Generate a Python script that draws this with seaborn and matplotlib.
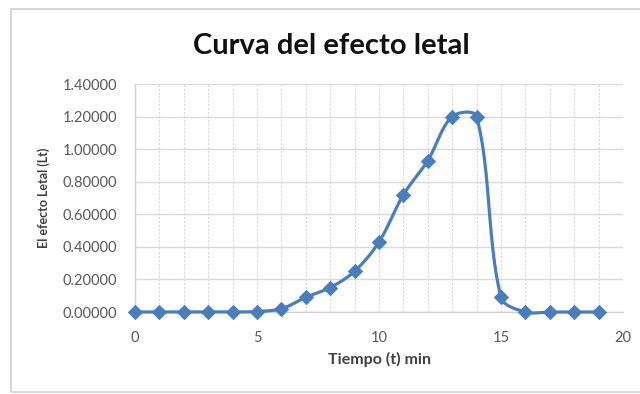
import numpy as np
import pandas as pd
import matplotlib
matplotlib.use("Agg")
import matplotlib.pyplot as plt
import seaborn as sns
from matplotlib.patches import Rectangle
from matplotlib.ticker import MultipleLocator, FormatStrFormatter

tiempo = [0, 1, 2, 3, 4, 5, 6, 7, 8, 9, 10, 11, 12, 13, 14, 15, 16, 17, 18, 19]
efecto = [0.0, 0.0, 0.0, 0.0, 0.0, 0.003, 0.02, 0.09, 0.15, 0.25, 0.43,
          0.72, 0.93, 1.20, 1.20, 0.09, 0.0, 0.0, 0.0, 0.0]

title = "Curva del efecto letal"
xlabel = "Tiempo (t) min"
ylabel = "El efecto Letal (Lt)"

sns.set_theme(style="white")
plt.rcParams['font.family'] = ['Lato', 'DejaVu Sans']

color = "#4a7ebb"


def smooth(x, y, sx, sy, n=40):
    # Excel-like smoothed line: Bezier segments whose control points use
    # chord lengths measured in screen space.
    P = np.column_stack([np.asarray(x, float) * sx, np.asarray(y, float) * sy])
    m = len(P)
    d = np.linalg.norm(np.diff(P, axis=0), axis=1)
    T = np.zeros_like(P)
    for i in range(m):
        if i == 0:
            T[i] = (P[1] - P[0]) / d[0]
        elif i == m - 1:
            T[i] = (P[-1] - P[-2]) / d[-1]
        else:
            T[i] = (P[i + 1] - P[i - 1]) / (d[i - 1] + d[i])
    t = np.linspace(0, 1, n, endpoint=False)[:, None]
    out = []
    for i in range(m - 1):
        p0 = P[i]
        p3 = P[i + 1]
        p1 = p0 + T[i] * d[i] / 3
        p2 = p3 - T[i + 1] * d[i] / 3
        seg = ((1 - t) ** 3) * p0 + 3 * ((1 - t) ** 2) * t * p1 + 3 * (1 - t) * t ** 2 * p2 + t ** 3 * p3
        out.append(seg)
    out.append(P[-1:])
    out = np.vstack(out)
    return out[:, 0] / sx, out[:, 1] / sy


fig = plt.figure(figsize=(6.4, 3.94), dpi=100)
fig.patch.set_facecolor("white")
fig.add_artist(Rectangle((11 / 640, 2 / 394), 1.2, 383 / 394, transform=fig.transFigure,
                         fill=False, edgecolor="#d0d0d0", linewidth=1.2))

ax = fig.add_axes([135 / 640, 1 - 312 / 394, (623 - 135) / 640, (312 - 84) / 394])
ax.set_xlim(0, 20)
ax.set_ylim(0, 1.4)

bb = ax.get_window_extent()
px_x = bb.width / 20.0
px_y = bb.height / 1.4

sx_, sy_ = smooth(tiempo, efecto, px_x, px_y)
sdf = pd.DataFrame({"t": sx_, "L": sy_})
df = pd.DataFrame({"t": tiempo, "L": efecto})
sns.lineplot(data=sdf, x="t", y="L", ax=ax, color=color, linewidth=2.3, sort=False,
             estimator=None, zorder=3)
sns.scatterplot(data=df, x="t", y="L", ax=ax, color=color, marker="D", s=62,
                edgecolor=color, linewidth=0, zorder=4)

ax.set_xlim(0, 20)
ax.set_ylim(0, 1.4)
ax.xaxis.set_major_locator(MultipleLocator(5))
ax.xaxis.set_minor_locator(MultipleLocator(1))
ax.yaxis.set_major_locator(MultipleLocator(0.2))
ax.yaxis.set_major_formatter(FormatStrFormatter("%.5f"))
ax.grid(True, which="major", axis="y", color="#d9d9d9", linewidth=1)
ax.grid(True, which="both", axis="x", color="#d9d9d9", linewidth=0.8, linestyle=(0, (2, 1.5)))
ax.set_axisbelow(True)
for s in ["top", "right"]:
    ax.spines[s].set_visible(False)
for s in ["left", "bottom"]:
    ax.spines[s].set_color("#d0d0d0")
    ax.spines[s].set_linewidth(1)
ax.tick_params(axis="both", which="both", length=0, labelsize=10.5, colors="#595959")
ax.tick_params(axis="x", pad=14)
ax.tick_params(axis="y", pad=13)
ax.set_xlabel(xlabel, fontsize=11.5, fontweight="bold", color="#404040", labelpad=5)
ax.set_ylabel(ylabel, fontsize=9, fontweight="bold", color="#404040", labelpad=9)
for c in ax.collections + ax.lines:
    c.set_clip_on(False)

fig.text(331 / 640, 1 - 46 / 394, title, ha="center", va="center", fontsize=21,
         color="#111111", fontweight="bold")

fig.savefig("out.png", dpi=100)
